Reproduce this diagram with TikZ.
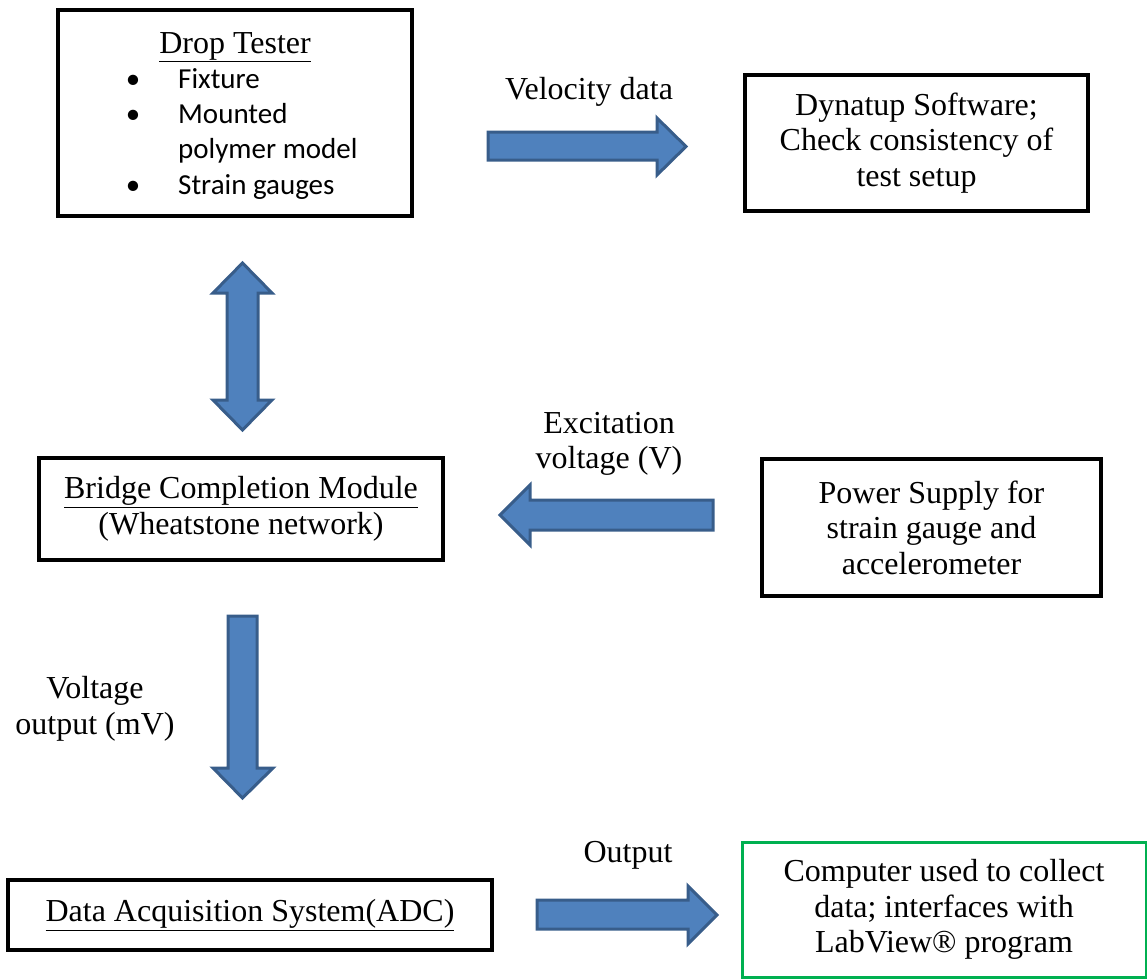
\documentclass[tikz,border=0pt]{standalone}
\usepackage{fontspec}
\setmainfont{Liberation Serif}
\newfontfamily\calibrifont{Carlito}
\definecolor{arrowfill}{RGB}{79,129,189}
\definecolor{arrowedge}{RGB}{56,93,138}
\definecolor{compgreen}{RGB}{0,176,80}
\begin{document}
\begin{tikzpicture}[x=1pt,y=-1pt,
  box/.style={draw=black,line width=4.5pt,inner sep=0pt,align=center,
    font=\fontsize{32}{35.5}\selectfont},
  lbl/.style={align=center,inner sep=0pt,font=\fontsize{32}{35.5}\selectfont},
  bul/.style={inner sep=0pt,font=\calibrifont\fontsize{29}{35}\selectfont},
  blockarrow/.style={fill=arrowfill,draw=arrowedge,line width=3pt,line join=miter}]
\useasboundingbox (0,0) rectangle (1147,978);

% boxes
\node[box,minimum width=354pt,minimum height=206pt] (drop) at (235,113) {};
\node[lbl,anchor=base] (droptitle) at (235,53) {\underline{Drop Tester}};
\node[bul,anchor=base] (b1) at (133,88) {•};
\node[bul,anchor=base west] (t1) at (178,88) {Fixture};
\node[bul,anchor=base] (b2) at (133,123) {•};
\node[bul,anchor=base west] (t2) at (178,123) {Mounted};
\node[bul,anchor=base west] (t3) at (178,158) {polymer model};
\node[bul,anchor=base] (b4) at (133,194) {•};
\node[bul,anchor=base west] (t4) at (178,194) {Strain gauges};

\node[box,minimum width=343pt,minimum height=136pt] (dyn) at (916.5,143)
  {Dynatup Software;\\Check consistency of\\test setup};
\node[box,minimum width=404pt,minimum height=102pt] (bridge) at (241,509)
  {\underline{Bridge Completion Module}\\(Wheatstone network)};
\node[box,minimum width=339pt,minimum height=137pt] (power) at (931.5,527.5)
  {Power Supply for\\strain gauge and\\accelerometer};
\node[box,minimum width=484pt,minimum height=70pt] (daq) at (250,915)
  {\underline{Data Acquisition System(ADC)}};
\node[box,draw=compgreen,line width=3pt,minimum width=404pt,minimum height=135pt] (comp) at (944,909.5)
  {Computer used to collect\\data; interfaces with\\LabView® program};

% labels
\node[lbl] (vlbl) at (589,92) {Velocity data};
\node[lbl] (elbl) at (609,444) {Excitation\\voltage (V)};
\node[lbl] (volbl) at (95,709) {Voltage\\output (mV)};
\node[lbl] (olbl) at (628,855) {Output};

% block arrows
\draw[blockarrow] (488,132) -- (657,132) -- (657,118) -- (686,146.5) -- (657,175) -- (657,160) -- (488,160) -- cycle;
\draw[blockarrow] (242.5,263) -- (272,293) -- (258,293) -- (258,400) -- (272,400) -- (242.5,430)
  -- (213,400) -- (227,400) -- (227,293) -- (213,293) -- cycle;
\draw[blockarrow] (713,500) -- (530,500) -- (530,485) -- (500,515) -- (530,545) -- (530,530) -- (713,530) -- cycle;
\draw[blockarrow] (228,616) -- (257,616) -- (257,768) -- (273,768) -- (242.5,798) -- (213,768) -- (228,768) -- cycle;
\draw[blockarrow] (537,900) -- (688,900) -- (688,886) -- (717,915) -- (688,944) -- (688,929) -- (537,929) -- cycle;
\end{tikzpicture}
\end{document}
